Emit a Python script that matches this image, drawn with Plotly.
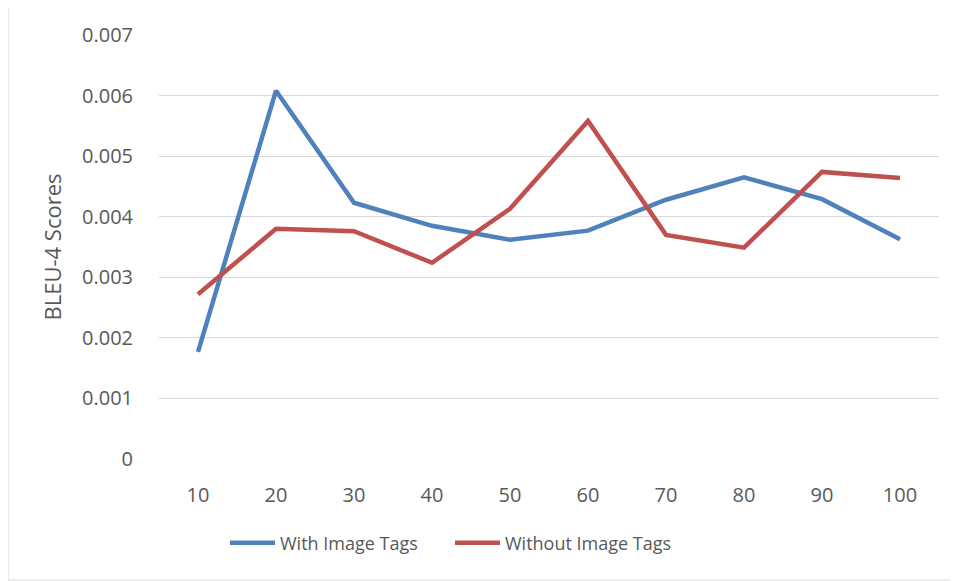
import plotly.graph_objects as go

categories = ["10", "20", "30", "40", "50", "60", "70", "80", "90", "100"]
with_tags = [0.00177, 0.00608, 0.00423, 0.00385, 0.00362, 0.00377, 0.00428, 0.00465, 0.00429, 0.00363]
without_tags = [0.00272, 0.00380, 0.00376, 0.00324, 0.00413, 0.00558, 0.00370, 0.00349, 0.00474, 0.00464]
y_ticks = [0, 0.001, 0.002, 0.003, 0.004, 0.005, 0.006, 0.007]
y_ticktext = ["0", "0.001", "0.002", "0.003", "0.004", "0.005", "0.006", "0.007"]

W, H = 958, 581
OFF = 8  # page body margin
L, R, T, B = 159, 939, 35, 459

fig = go.Figure()
fig.add_trace(go.Scatter(x=categories, y=with_tags, mode="lines", name="With Image Tags",
                         line=dict(color="#4F81BD", width=4.5)))
fig.add_trace(go.Scatter(x=categories, y=without_tags, mode="lines", name="Without Image Tags",
                         line=dict(color="#C0504D", width=4.5)))

font_family = "Open Sans, Liberation Sans, sans-serif"
fig.update_layout(
    width=W, height=H,
    margin=dict(l=L - OFF, r=W - R + OFF, t=T - OFF, b=H - B + OFF),
    paper_bgcolor="white", plot_bgcolor="white",
    font=dict(family=font_family, color="#595959", size=20),
    showlegend=True,
    legend=dict(orientation="h", x=(225 - L) / (R - L), xanchor="left",
                y=(B - 543) / (B - T), yanchor="middle",
                font=dict(size=18, color="#595959"), itemwidth=45,
                entrywidth=165, entrywidthmode="pixels",
                traceorder="normal", tracegroupgap=0),
    xaxis=dict(type="category", showgrid=False, showline=False, zeroline=False,
               ticks="outside", ticklen=18, tickcolor="rgba(0,0,0,0)",
               tickfont=dict(size=20, color="#595959"),
               range=[-0.5, 9.5]),
    yaxis=dict(range=[0, 0.007], tickvals=y_ticks, ticktext=y_ticktext,
               showgrid=True, gridcolor="#D9D9D9", gridwidth=1.3,
               zeroline=False, showline=False,
               ticks="outside", ticklen=21, tickcolor="rgba(0,0,0,0)",
               tickfont=dict(size=20, color="#595959"),
               title=dict(text="BLEU-4 Scores", font=dict(size=22, color="#595959"), standoff=14)),
    shapes=[dict(type="rect", xref="paper", yref="paper",
                 x0=(8 - L) / (R - L), x1=(957 - L) / (R - L),
                 y0=(B - 580) / (B - T), y1=(B - 6) / (B - T),
                 line=dict(color="#D9D9D9", width=1.2), fillcolor="rgba(0,0,0,0)", layer="below")],
)

fig.write_html("out.html")
